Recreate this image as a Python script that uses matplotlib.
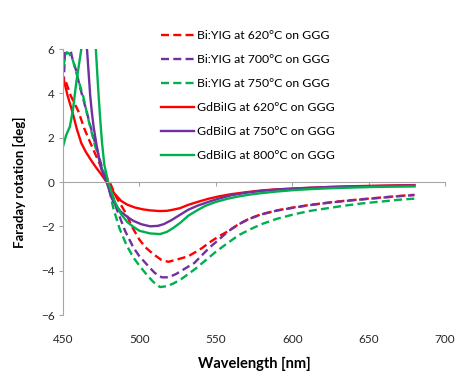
import matplotlib
matplotlib.use("Agg")
import matplotlib.pyplot as plt

plt.rcParams['font.family'] = ['Lato', 'DejaVu Sans']

# Bi:YIG films (dashed)
byig620_x = [452, 455, 460, 464, 468, 473, 477, 480.5, 485, 491.5, 495, 500, 504, 509, 514.5, 519, 526,
             532, 537, 541, 546, 552, 558, 565, 572, 580, 590, 601.6, 612, 623.4, 634, 645, 660, 670, 680]
byig620_y = [4.5, 3.9, 3.2, 2.4, 1.75, 0.97, 0.37, 0.0, -0.7, -1.45, -2.0, -2.6, -2.95, -3.25, -3.52, -3.6, -3.47,
             -3.35, -3.15, -2.98, -2.72, -2.45, -2.22, -1.9, -1.65, -1.45, -1.28, -1.14, -1.03, -0.93, -0.85, -0.78,
             -0.69, -0.63, -0.58]

byig700_x = [450.5, 451.5, 453, 454.5, 456, 458.7, 461, 465, 468, 471.8, 476, 480.4, 485, 490.6, 496, 500, 504.6,
             510, 514.6, 519, 524, 530, 536, 541, 546, 552, 558, 565, 572, 580, 590, 601.6, 612, 623.4, 634, 645,
             660, 670, 680]
byig700_y = [4.4, 6.3, 6.5, 6.1, 5.6, 5.0, 4.3, 3.3, 2.5, 1.57, 0.55, -0.2, -1.2, -2.2, -2.95, -3.35, -3.7,
             -4.1, -4.3, -4.3, -4.15, -3.9, -3.65, -3.3, -2.95, -2.6, -2.23, -1.91, -1.66, -1.46, -1.29, -1.15,
             -1.04, -0.94, -0.86, -0.79, -0.7, -0.64, -0.59]

byig750_x = [450, 452.5, 454, 456.5, 459.8, 463.1, 466.5, 470.7, 475.1, 479.4, 483, 487, 491.6, 496, 500.3, 505,
             509, 513.5, 518, 522.2, 527, 532, 536.4, 543, 550, 558, 565, 572, 580, 590, 601.6, 612, 623.4, 634,
             645.2, 660, 670, 680]
byig750_y = [5.2, 5.85, 5.8, 5.48, 4.65, 3.9, 2.85, 1.7, 0.67, -0.08, -1.2, -2.1, -2.85, -3.4, -3.8, -4.2,
             -4.5, -4.74, -4.7, -4.58, -4.4, -4.15, -3.93, -3.55, -3.15, -2.74, -2.4, -2.15, -1.9, -1.66, -1.45,
             -1.3, -1.18, -1.07, -0.97, -0.87, -0.8, -0.75]

# GdBiIG films (solid)
gd620_x = [450, 453, 456, 459, 462, 465, 468.5, 472, 475, 478, 480, 484, 488, 492, 497, 502, 507, 513, 518, 522,
           526.6, 532, 538, 545, 552, 560, 570, 580, 590, 600, 612, 625, 640, 655, 668, 680]
gd620_y = [4.75, 3.9, 3.2, 2.4, 1.75, 1.35, 0.97, 0.62, 0.35, 0.05, -0.15, -0.55, -0.85, -1.02, -1.15, -1.23,
           -1.28, -1.31, -1.3, -1.25, -1.18, -1.03, -0.9, -0.76, -0.65, -0.55, -0.46, -0.38, -0.33, -0.3, -0.26,
           -0.22, -0.19, -0.17, -0.15, -0.14]

gd750_x = [464.8, 465.8, 466.8, 467.8, 468.8, 470, 472, 475, 479, 482, 485, 488, 492.7, 496, 501, 507, 512, 516,
           521, 526.6, 532, 538, 545, 552, 560, 570, 580, 590, 600, 612, 625, 640, 655, 668, 680]
gd750_y = [6.9, 5.9, 4.9, 3.9, 3.2, 2.5, 1.65, 0.6, -0.1, -0.75, -1.1, -1.35, -1.6, -1.75, -1.9, -2.0, -1.98,
           -1.9, -1.72, -1.48, -1.25, -1.07, -0.9, -0.75, -0.6, -0.48, -0.4, -0.34, -0.3, -0.26, -0.23, -0.2,
           -0.18, -0.17, -0.16]

gd800_x = [450, 452, 454.5, 456.5, 458.7, 462, 465, 468, 470.5, 471.5, 472.5, 473.5, 474.5, 475.5, 477, 479.5,
           481, 484, 488, 492, 496, 500, 507, 513.5, 518, 522, 526.6, 532, 538, 543, 550, 558, 565, 572, 580, 590,
           600, 612, 625, 640, 655, 668, 680]
gd800_y = [1.6, 2.1, 2.5, 3.25, 4.5, 6.0, 7.0, 7.3, 6.8, 6.0, 4.8, 3.7, 2.7, 1.8, 0.8, 0.0, -0.3, -0.9, -1.45,
           -1.8, -2.02, -2.2, -2.32, -2.35, -2.25, -2.08, -1.85, -1.52, -1.27, -1.08, -0.9, -0.75, -0.65, -0.57,
           -0.5, -0.43, -0.37, -0.32, -0.28, -0.25, -0.22, -0.21, -0.2]

labels = ["Bi:YIG at 620\u00b0C on GGG", "Bi:YIG at 700\u00b0C on GGG", "Bi:YIG at 750\u00b0C on GGG",
          "GdBiIG at 620\u00b0C on GGG", "GdBiIG at 750\u00b0C on GGG", "GdBiIG at 800\u00b0C on GGG"]
x_ticks = [450, 500, 550, 600, 650, 700]
y_ticks = [-6, -4, -2, 0, 2, 4, 6]

RED, PURPLE, GREEN = '#FF0000', '#7030A0', '#00B050'

fig = plt.figure(figsize=(4.56, 3.74), dpi=100)
ax = fig.add_axes([63/456, 1 - 315/374, 382/456, 266/374])

series = [
    (byig620_x, byig620_y, RED, '--'),
    (byig700_x, byig700_y, PURPLE, '--'),
    (byig750_x, byig750_y, GREEN, '--'),
    (gd620_x, gd620_y, RED, '-'),
    (gd750_x, gd750_y, PURPLE, '-'),
    (gd800_x, gd800_y, GREEN, '-'),
]
for (xs, ys, c, ls), lab in zip(series, labels):
    kw = dict(dashes=(3.4, 1.8)) if ls == '--' else {}
    ax.plot(xs, ys, color=c, linestyle=ls, lw=1.7, label=lab, **kw)

ax.set_xlim(450, 700)
ax.set_ylim(-6, 6)
ax.set_yticks(y_ticks)
ax.set_xticks(x_ticks)

for s in ['top', 'right']:
    ax.spines[s].set_visible(False)
ax.spines['left'].set_color('#A6A6A6')
ax.spines['bottom'].set_color('#A6A6A6')
ax.spines['bottom'].set_position(('data', 0))
ax.tick_params(axis='y', colors='#A6A6A6', length=3, labelcolor='#262626', labelsize=8.5, pad=3)
ax.tick_params(axis='x', colors='#A6A6A6', length=3, labelbottom=False)

sec = ax.secondary_xaxis('bottom')
sec.set_xticks(x_ticks)
sec.spines['bottom'].set_visible(False)
sec.tick_params(axis='x', length=0, labelcolor='#262626', labelsize=8.5, pad=14)
sec.set_xlabel('Wavelength [nm]', fontsize=10.5, fontweight='bold', labelpad=8)

ax.set_ylabel('Faraday rotation [deg]', fontsize=9.5, fontweight='bold', labelpad=11)

ax.legend(loc='upper left', bbox_to_anchor=(161/456, 1 - 30/374), bbox_transform=fig.transFigure,
          frameon=False, fontsize=8.8, handlelength=2.7, handletextpad=0.25, labelspacing=1.07, borderpad=0,
          borderaxespad=0)

fig.savefig('out.png', dpi=100)
